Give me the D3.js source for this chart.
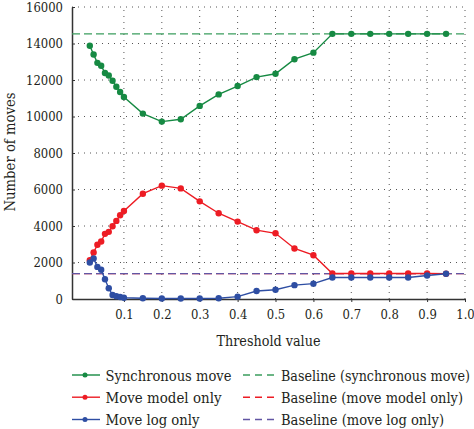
<!DOCTYPE html>
<html>
<head>
<meta charset="utf-8">
<script src="https://cdn.jsdelivr.net/npm/d3@7"></script>
<style>
  body { margin: 0; background: #fff; }
</style>
</head>
<body>
<div id="chart"></div>
<script>
const thresholds = [0.01, 0.02, 0.03, 0.04, 0.05, 0.06, 0.07, 0.08, 0.09, 0.1,
  0.15, 0.2, 0.25, 0.3, 0.35, 0.4, 0.45, 0.5, 0.55, 0.6, 0.65, 0.7, 0.75, 0.8, 0.85, 0.9, 0.95];

const syncMove = [13880, 13400, 12940, 12780, 12380, 12250, 11960, 11630, 11340, 11070,
  10160, 9720, 9850, 10580, 11210, 11670, 12160, 12340, 13140, 13500, 14530, 14530, 14530, 14530, 14530, 14530, 14530];
const modelOnly = [2130, 2550, 2970, 3150, 3570, 3680, 3990, 4280, 4590, 4820,
  5770, 6210, 6060, 5350, 4700, 4240, 3770, 3600, 2770, 2400, 1400, 1400, 1400, 1400, 1400, 1400, 1380];
const logOnly = [2000, 2220, 1760, 1600, 1080, 590, 220, 150, 110, 70,
  40, 30, 30, 30, 40, 130, 440, 510, 760, 840, 1180, 1180, 1180, 1180, 1180, 1290, 1380];

const baselineSync = 14530;
const baselineModel = 1390;
const baselineLog = 1390;

const xTicks = [0.1, 0.2, 0.3, 0.4, 0.5, 0.6, 0.7, 0.8, 0.9, 1.0];
const yTicks = [0, 2000, 4000, 6000, 8000, 10000, 12000, 14000, 16000];

const series = [
  { name: "Synchronous move", values: syncMove, color: "#168a43", w: 126 },
  { name: "Move model only", values: modelOnly, color: "#ed1c24", w: 116 },
  { name: "Move log only", values: logOnly, color: "#2e4ea3", w: 94 }
];
const baselines = [
  { name: "Baseline (synchronous move)", value: baselineSync, color: "#3b9d5e", w: 189 },
  { name: "Baseline (move model only)", value: baselineModel, color: "#ed1c24", w: 182 },
  { name: "Baseline (move log only)", value: baselineLog, color: "#6256a3", w: 163 }
];

const FONT = "'DejaVu Serif', serif";
const TEXT = "#231f20";

const width = 474, height = 429;
const margin = { left: 72, right: 9, top: 7, bottom: 130 };

const svg = d3.select("#chart").append("svg")
  .attr("width", width)
  .attr("height", height)
  .style("font-family", FONT);

const x = d3.scaleLinear().domain([-0.037, 1.0]).range([margin.left, width - margin.right]);
const y = d3.scaleLinear().domain([0, 16000]).range([height - margin.bottom, margin.top]);

// squeeze wide DejaVu glyphs to the narrower widths of the original face
function squeeze(sel, k) {
  sel.each(function () {
    const len = this.getComputedTextLength();
    d3.select(this).attr("textLength", len * k).attr("lengthAdjust", "spacingAndGlyphs");
  });
}

// dotted grid
svg.append("g")
  .selectAll("line")
  .data(xTicks)
  .join("line")
  .attr("x1", d => x(d)).attr("x2", d => x(d))
  .attr("y1", y(0)).attr("y2", y(16000))
  .attr("stroke", "#555")
  .attr("stroke-width", 1)
  .attr("stroke-dasharray", "1,5");

svg.append("g")
  .selectAll("line")
  .data(yTicks.filter(d => d > 0))
  .join("line")
  .attr("x1", x.range()[0]).attr("x2", x.range()[1])
  .attr("y1", d => y(d)).attr("y2", d => y(d))
  .attr("stroke", "#555")
  .attr("stroke-width", 1)
  .attr("stroke-dasharray", "1,5");

// axes
const xAxis = svg.append("g")
  .attr("transform", `translate(0,${y(0)})`)
  .call(d3.axisBottom(x).tickValues(xTicks).tickFormat(d3.format(".1f")).tickSize(3).tickSizeOuter(0));
xAxis.attr("font-family", null).attr("font-size", null);
xAxis.select(".domain").attr("stroke", "#333").attr("stroke-width", 1.5);
xAxis.selectAll(".tick line").attr("stroke", "#333");
xAxis.selectAll("text").attr("font-size", 13.5).attr("y", 10).attr("dy", "0.71em")
  .style("font-family", FONT).attr("fill", TEXT)
  .call(squeeze, 0.86);

const yAxis = svg.append("g")
  .attr("transform", `translate(${x.range()[0]},0)`)
  .call(d3.axisLeft(y).tickValues(yTicks).tickFormat(d3.format("d")).tickSize(-3).tickSizeOuter(0));
yAxis.attr("font-family", null).attr("font-size", null);
yAxis.select(".domain").attr("stroke", "#333").attr("stroke-width", 1.5);
yAxis.selectAll(".tick line").attr("stroke", "#333");
yAxis.selectAll("text").attr("font-size", 13.5).attr("x", -9)
  .style("font-family", FONT).attr("fill", TEXT)
  .call(squeeze, 0.86);

// axis titles
svg.append("text")
  .attr("x", 268.5).attr("y", 346)
  .attr("text-anchor", "middle")
  .attr("font-size", 15)
  .attr("fill", TEXT)
  .attr("textLength", 104).attr("lengthAdjust", "spacingAndGlyphs")
  .text("Threshold value");

svg.append("text")
  .attr("transform", `translate(15,152) rotate(-90)`)
  .attr("text-anchor", "middle")
  .attr("font-size", 15)
  .attr("fill", TEXT)
  .attr("textLength", 119).attr("lengthAdjust", "spacingAndGlyphs")
  .text("Number of moves");

// baselines
svg.append("g")
  .selectAll("line")
  .data(baselines)
  .join("line")
  .attr("x1", x.range()[0]).attr("x2", x.range()[1])
  .attr("y1", d => y(d.value)).attr("y2", d => y(d.value))
  .attr("stroke", d => d.color)
  .attr("stroke-width", 1.4)
  .attr("stroke-dasharray", "8,4");

// series
const line = d3.line().x((d, i) => x(thresholds[i])).y(d => y(d));

series.forEach(s => {
  svg.append("path")
    .datum(s.values)
    .attr("fill", "none")
    .attr("stroke", s.color)
    .attr("stroke-width", 1.4)
    .attr("d", line);

  svg.append("g")
    .selectAll("circle")
    .data(s.values)
    .join("circle")
    .attr("cx", (d, i) => x(thresholds[i]))
    .attr("cy", d => y(d))
    .attr("r", 3.2)
    .attr("fill", s.color);
});

// legend
const legendRows = [380.5, 402.7, 425];
const legend = svg.append("g");

series.forEach((s, i) => {
  const ly = legendRows[i] - 5.5;
  legend.append("line")
    .attr("x1", 72).attr("x2", 100).attr("y1", ly).attr("y2", ly)
    .attr("stroke", s.color).attr("stroke-width", 1.4);
  legend.append("circle")
    .attr("cx", 85).attr("cy", ly).attr("r", 2.5).attr("fill", s.color);
  legend.append("text")
    .attr("x", 105.5).attr("y", legendRows[i])
    .attr("font-size", 15)
    .attr("fill", TEXT)
    .attr("textLength", s.w).attr("lengthAdjust", "spacingAndGlyphs")
    .text(s.name);
});

baselines.forEach((b, i) => {
  const ly = legendRows[i] - 5.5;
  legend.append("line")
    .attr("x1", 243).attr("x2", 275).attr("y1", ly).attr("y2", ly)
    .attr("stroke", b.color).attr("stroke-width", 1.4)
    .attr("stroke-dasharray", "7,5");
  legend.append("text")
    .attr("x", 281).attr("y", legendRows[i])
    .attr("font-size", 15)
    .attr("fill", TEXT)
    .attr("textLength", b.w).attr("lengthAdjust", "spacingAndGlyphs")
    .text(b.name);
});
</script>
</body>
</html>
